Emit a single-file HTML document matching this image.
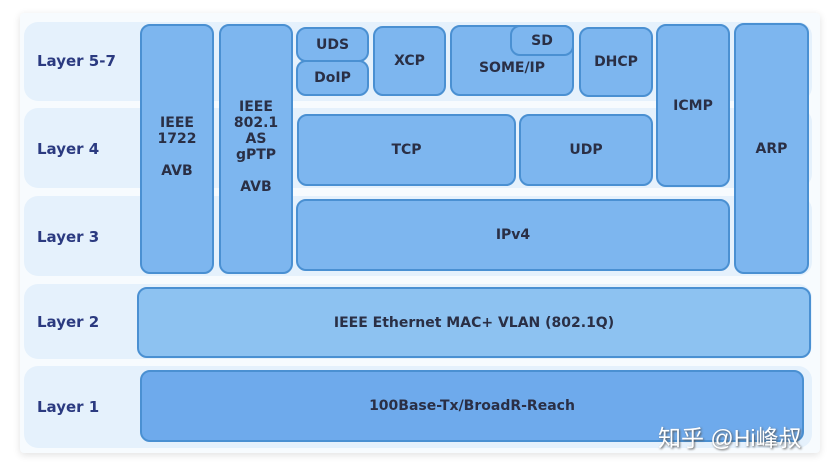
<!DOCTYPE html>
<html><head><meta charset="utf-8"><style>
body{margin:0;width:835px;height:469px;background:#fff;position:relative;overflow:hidden;font-family:Verdana,"DejaVu Sans","Liberation Sans",sans-serif}
.p{position:absolute;left:20px;top:13px;width:800px;height:440px;background:#f7fbfe;box-shadow:0 2px 8px rgba(0,0,0,0.12);border-radius:4px}
.r{position:absolute;left:24px;width:788px;background:#e5f1fc;border-radius:14px}
.l{position:absolute;left:37px;font-weight:bold;font-size:15px;color:#2b3a80;font-family:"DejaVu Sans",sans-serif}
.b{position:absolute;box-sizing:border-box;background:#7db6ef;border:2px solid #4a90d2;border-radius:10px;display:flex;align-items:center;justify-content:center;text-align:center;font-weight:bold;font-size:14px;color:#2a2f45;line-height:16px}
</style></head><body>
<div class="p"></div>
<div class="r" style="top:22px;height:79px"></div>
<div class="r" style="top:108px;height:80px"></div>
<div class="r" style="top:196px;height:80px"></div>
<div class="r" style="top:284px;height:75px"></div>
<div class="r" style="top:366px;height:82px"></div>
<div class="l" style="top:52px">Layer 5-7</div>
<div class="l" style="top:140px">Layer 4</div>
<div class="l" style="top:228px">Layer 3</div>
<div class="l" style="top:313px">Layer 2</div>
<div class="l" style="top:398px">Layer 1</div>
<div class="b" style="left:140px;top:24px;width:74px;height:250px;padding-bottom:4px">IEEE<br>1722<br><br>AVB</div>
<div class="b" style="left:219px;top:24px;width:74px;height:250px;padding-bottom:4px">IEEE<br>802.1<br>AS<br>gPTP<br><br>AVB</div>
<div class="b" style="left:296px;top:27px;width:73px;height:35px">UDS</div>
<div class="b" style="left:296px;top:60px;width:73px;height:36px">DoIP</div>
<div class="b" style="left:373px;top:26px;width:73px;height:70px">XCP</div>
<div class="b" style="left:450px;top:25px;width:124px;height:71px;padding-top:14px">SOME/IP</div>
<div class="b" style="left:510px;top:25px;width:64px;height:31px">SD</div>
<div class="b" style="left:579px;top:27px;width:74px;height:70px">DHCP</div>
<div class="b" style="left:656px;top:24px;width:74px;height:163px">ICMP</div>
<div class="b" style="left:734px;top:23px;width:75px;height:251px">ARP</div>
<div class="b" style="left:297px;top:114px;width:219px;height:72px">TCP</div>
<div class="b" style="left:519px;top:114px;width:134px;height:72px">UDP</div>
<div class="b" style="left:296px;top:199px;width:434px;height:72px">IPv4</div>
<div class="b" style="left:137px;top:287px;width:674px;height:71px;background:#8dc2f1">IEEE Ethernet MAC+ VLAN (802.1Q)</div>
<div class="b" style="left:140px;top:370px;width:664px;height:72px;background:#6eaaec">100Base-Tx/BroadR-Reach</div>
<div style="position:absolute;left:658px;top:419px;font-size:23px;color:#fff;text-shadow:1px 1px 2px #555;font-family:'Liberation Sans','Noto Sans CJK SC',sans-serif">知乎 @Hi峰叔</div>
</body></html>
